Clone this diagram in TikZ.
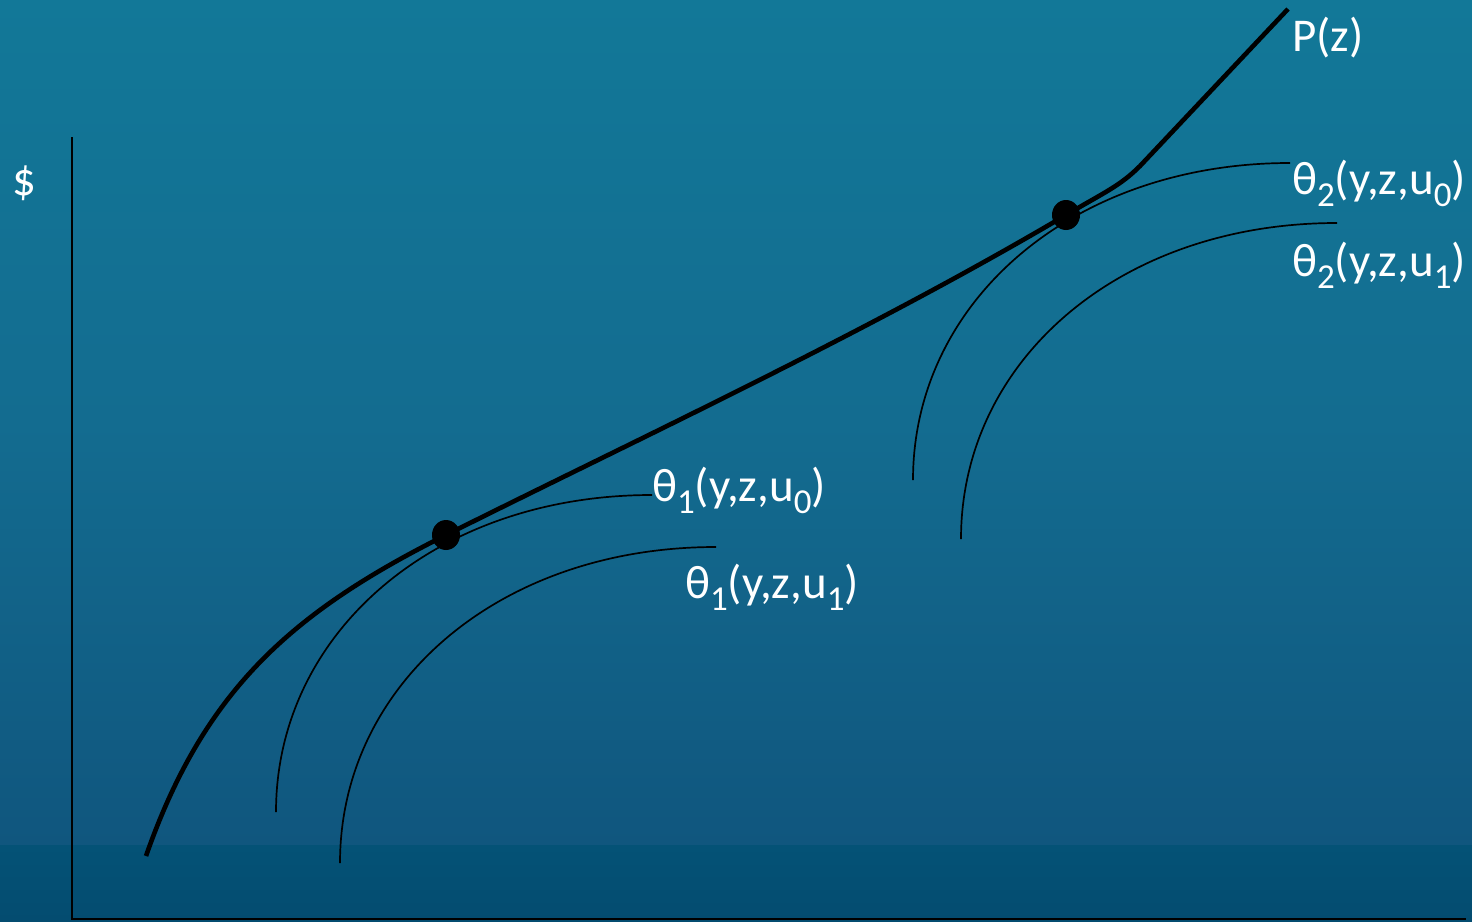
\documentclass[tikz,border=0pt]{standalone}
\usepackage{fontspec}
\setmainfont{Carlito}
\usetikzlibrary{shapes.geometric}
\definecolor{bgtop}{RGB}{18,120,152}
\definecolor{bgmid}{RGB}{19,108,144}
\definecolor{bglow}{RGB}{16,86,126}
\definecolor{bgband}{RGB}{4,82,118}
\definecolor{bgfoot}{RGB}{4,76,112}
\tikzset{
    axis/.style={draw=black, line width=1.5pt},
    pcurve/.style={draw=black, line width=4.6pt},
    icurve/.style={draw=black, line width=1.7pt},
    tangent/.style={ellipse, fill=black, inner sep=0pt, minimum width=28pt, minimum height=30pt},
    lab/.style={text=white, inner sep=0pt, font=\fontsize{47}{56}\selectfont}
}
\newcommand{\lo}[1]{\raisebox{-12pt}{\fontsize{35}{42}\selectfont #1}}

\begin{document}
\begin{tikzpicture}[x=1pt, y=-1pt]

    % background
    \shade[top color=bgtop, bottom color=bglow, middle color=bgmid] (0,0) rectangle (1472,845);
    \shade[top color=bgband, bottom color=bgfoot] (0,845) rectangle (1472,921);
    \useasboundingbox (0,0) rectangle (1472,921);

    % axes
    \coordinate (ytop) at (72,137);
    \coordinate (origin) at (72,919);
    \coordinate (xend) at (1466,919);
    \draw[axis] (ytop) -- (origin) -- (xend);
    \node[lab, anchor=base] (dollar) at (24,195) {\$};

    % points of tangency
    \coordinate (t1) at (446,535);
    \coordinate (t2) at (1066,215);

    % bid curves
    \coordinate (a10) at (276,812);  \coordinate (b10) at (652,495);
    \coordinate (a11) at (340,863);  \coordinate (b11) at (716,547);
    \coordinate (a20) at (913,480);  \coordinate (b20) at (1290,163);
    \coordinate (a21) at (961,539);  \coordinate (b21) at (1337,223);
    \draw[icurve] (a10) .. controls +(0,-178) and +(-218,0) .. (b10);
    \draw[icurve] (a11) .. controls +(0,-178) and +(-218,0) .. (b11);
    \draw[icurve] (a20) .. controls +(0,-178) and +(-218,0) .. (b20);
    \draw[icurve] (a21) .. controls +(0,-178) and +(-218,0) .. (b21);

    % hedonic price function
    \coordinate (pstart) at (146,856);
    \coordinate (pbend) at (1140,166);
    \coordinate (pend) at (1288,9);
    \draw[pcurve] (pstart) .. controls (204,690) and (292,612) .. (t1)
        .. controls +(200,-100) and +(-200,118) .. (t2)
        .. controls +(39,-23) and (1120,186) .. (pbend) -- (pend);

    \node[tangent] (dot1) at (t1) {};
    \node[tangent] (dot2) at (t2) {};

    % labels
    \node[lab, anchor=base west] (plab) at (1292,51) {P(z)};
    \node[lab, anchor=base west] (lab20) at (1292,194) {θ\lo{2}(y,z,u\lo{0})};
    \node[lab, anchor=base west] (lab21) at (1292,276) {θ\lo{2}(y,z,u\lo{1})};
    \node[lab, anchor=base west] (lab10) at (652,501) {θ\lo{1}(y,z,u\lo{0})};
    \node[lab, anchor=base west] (lab11) at (685,598) {θ\lo{1}(y,z,u\lo{1})};

\end{tikzpicture}
\end{document}
